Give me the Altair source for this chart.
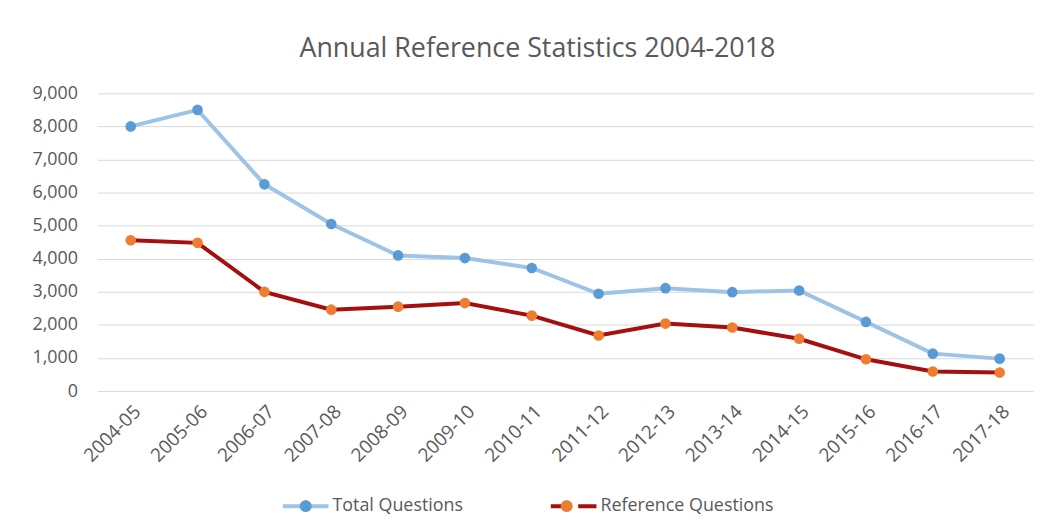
import altair as alt
import pandas as pd

categories = ["2004-05", "2005-06", "2006-07", "2007-08", "2008-09", "2009-10", "2010-11",
              "2011-12", "2012-13", "2013-14", "2014-15", "2015-16", "2016-17", "2017-18"]
total_questions = [8000, 8500, 6250, 5050, 4100, 4020, 3720, 2940, 3110, 2990, 3040, 2090, 1130, 980]
reference_questions = [4560, 4480, 3000, 2460, 2550, 2660, 2280, 1680, 2040, 1920, 1580, 960, 590, 560]
series_names = ["Total Questions", "Reference Questions"]
y_ticks = [0, 1000, 2000, 3000, 4000, 5000, 6000, 7000, 8000, 9000]

line_colors = ["#9dc3e6", "#a50f0f"]
point_colors = ["#5b9bd5", "#ed7d31"]
FONT = "Open Sans"
TEXT = "#595959"

rows = []
for c, t, r in zip(categories, total_questions, reference_questions):
    rows.append({"Year": c, "Series": series_names[0], "Value": t})
    rows.append({"Year": c, "Series": series_names[1], "Value": r})
df = pd.DataFrame(rows)

SYM_SIZE = 2116
LEGEND_FONT = 18
LABEL_W = 131  # approx. rendered width of "Total Questions"
COL_PAD = 80

x_enc = alt.X("Year:O", sort=categories, title=None,
              axis=alt.Axis(labelAngle=-45, labelAlign="right", labelBaseline="top",
                            labelPadding=11, labelFontSize=19, labelFont=FONT, labelColor=TEXT,
                            ticks=False, domain=False, grid=False))
y_enc = alt.Y("Value:Q", title=None,
              scale=alt.Scale(domain=[0, 9000], nice=False),
              axis=alt.Axis(values=y_ticks, format=",.0f", labelOverlap=False, labelFontSize=18,
                            labelFont=FONT, labelColor=TEXT, labelPadding=20, ticks=False,
                            domain=False, grid=True, gridColor="#d9d9d9", gridWidth=1))

base = alt.Chart(df).encode(x=x_enc, y=y_enc)

common_legend = dict(orient="none", legendX=185, legendY=391, direction="horizontal",
                     title=None, symbolSize=SYM_SIZE, symbolStrokeWidth=4,
                     labelFont=FONT, labelFontSize=LEGEND_FONT, labelColor=TEXT, labelLimit=0,
                     labelOffset=2, padding=0)

lines = base.mark_line(strokeWidth=4).encode(
    stroke=alt.Stroke("Series:N", sort=series_names,
                      scale=alt.Scale(domain=series_names, range=line_colors),
                      legend=alt.Legend(symbolType="M-1,0L-0.2,0M0.2,0L1,0",
                                        columnPadding=COL_PAD, **common_legend)),
    detail="Series:N",
)

points = base.mark_point(filled=True, size=115, opacity=1).encode(
    fill=alt.Fill("Series:N", sort=series_names,
                  scale=alt.Scale(domain=series_names, range=point_colors),
                  legend=alt.Legend(
                      symbolType="M-0.26,0A0.26,0.26,0,1,1,0.26,0A0.26,0.26,0,1,1,-0.26,0Z",
                      symbolStrokeColor="transparent", labelExpr="''",
                      columnPadding=COL_PAD + LABEL_W, **common_legend)),
)

chart = alt.layer(lines, points).resolve_scale(stroke="independent", fill="independent").properties(
    width=943, height=300,
    autosize=alt.AutoSizeParams(type="none"),
    padding={"left": 90, "top": 84, "right": 10, "bottom": 135},
    title=alt.TitleParams("Annual Reference Statistics 2004-2018", font=FONT, fontSize=27,
                          fontWeight="normal", color=TEXT, anchor="middle", dx=-28, offset=22),
).configure(background="white", view=alt.ViewConfig(stroke=None))

chart.save("out.html", embed_options={"renderer": "svg", "actions": False})
